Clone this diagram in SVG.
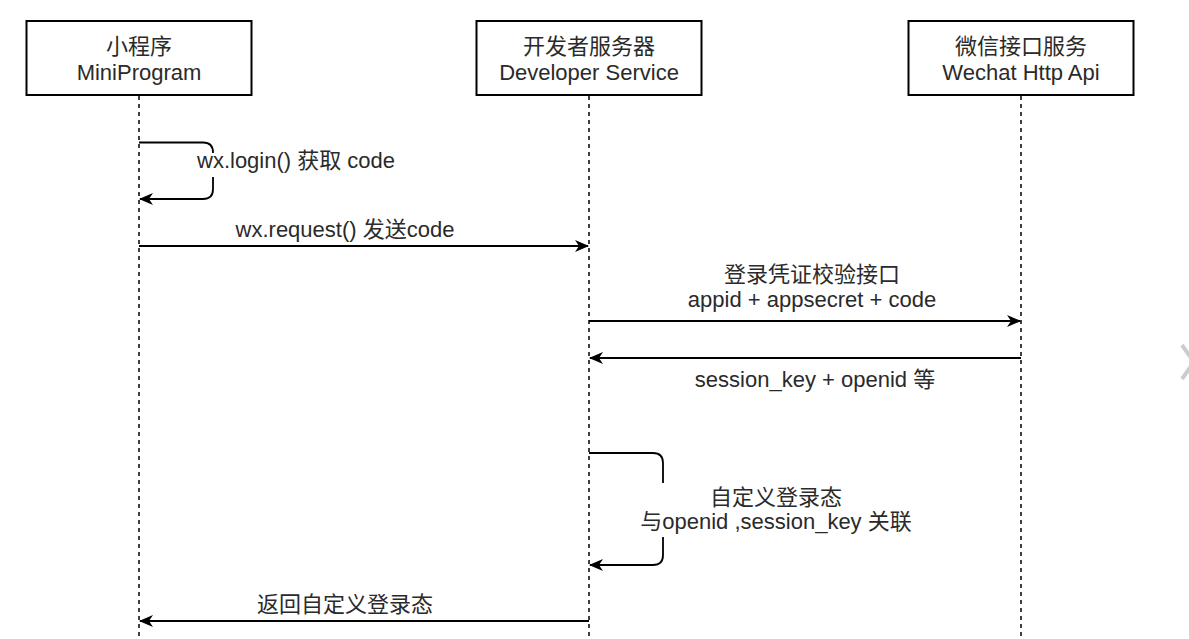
<svg xmlns="http://www.w3.org/2000/svg" width="1189" height="639" viewBox="0 0 1189 639">
<style>
text{font-family:"Liberation Sans","Noto Sans CJK SC",sans-serif;font-size:22px;fill:#2a2a2a}
.box{fill:#fff;stroke:#000;stroke-width:2}
.life{stroke:#000;stroke-width:1.5;stroke-dasharray:4 4;fill:none}
.msg{stroke:#000;stroke-width:1.8;fill:none}
.m{text-anchor:middle}
</style>
<defs>
<marker id="arr" viewBox="0 0 14 12" refX="13" refY="6" markerWidth="14" markerHeight="12" markerUnits="userSpaceOnUse" orient="auto">
<path d="M0,0 L14,6 L0,12 L4,6 Z" fill="#000"/>
</marker>
</defs>
<g id="lifelines">
<line class="life" x1="139" y1="96" x2="139" y2="639"/>
<line class="life" x1="589" y1="96" x2="589" y2="639"/>
<line class="life" x1="1021" y1="96" x2="1021" y2="639"/>
</g>
<g id="node-miniprogram">
<rect class="box" x="26.5" y="21" width="225" height="74"/>
<text class="m" x="139" y="54">小程序</text>
<text class="m" x="139" y="80">MiniProgram</text>
</g>
<g id="node-developer">
<rect class="box" x="476.5" y="21" width="225" height="74"/>
<text class="m" x="589" y="54">开发者服务器</text>
<text class="m" x="589" y="80">Developer Service</text>
</g>
<g id="node-wechat">
<rect class="box" x="908.5" y="21" width="225" height="74"/>
<text class="m" x="1021" y="54">微信接口服务</text>
<text class="m" x="1021" y="80">Wechat Http Api</text>
</g>
<g id="connectors">
<path class="msg" d="M139,142.5 H203 Q213,142.5 213,152.5 V153 M213,177 V189 Q213,199 203,199 H140" marker-end="url(#arr)"/>
<line class="msg" x1="139" y1="246" x2="588" y2="246" marker-end="url(#arr)"/>
<line class="msg" x1="589" y1="321" x2="1020" y2="321" marker-end="url(#arr)"/>
<line class="msg" x1="1021" y1="358" x2="590" y2="358" marker-end="url(#arr)"/>
<path class="msg" d="M589,453 H653 Q663,453 663,463 V483 M663,537 V555 Q663,565 653,565 H590" marker-end="url(#arr)"/>
<line class="msg" x1="589" y1="621" x2="140" y2="621" marker-end="url(#arr)"/>
</g>
<g id="labels">
<text x="197" y="168">wx.login() 获取 code</text>
<text class="m" x="345" y="237">wx.request() 发送code</text>
<text class="m" x="812" y="282">登录凭证校验接口</text>
<text class="m" x="812" y="307">appid + appsecret + code</text>
<text class="m" x="815" y="387">session_key + openid 等</text>
<text class="m" x="776" y="505">自定义登录态</text>
<text class="m" x="776" y="529">与openid ,session_key 关联</text>
<text class="m" x="345" y="612">返回自定义登录态</text>
</g>
<polyline points="1182,345 1194,362 1182,379" fill="none" stroke="#ccc" stroke-width="4"/>
</svg>
